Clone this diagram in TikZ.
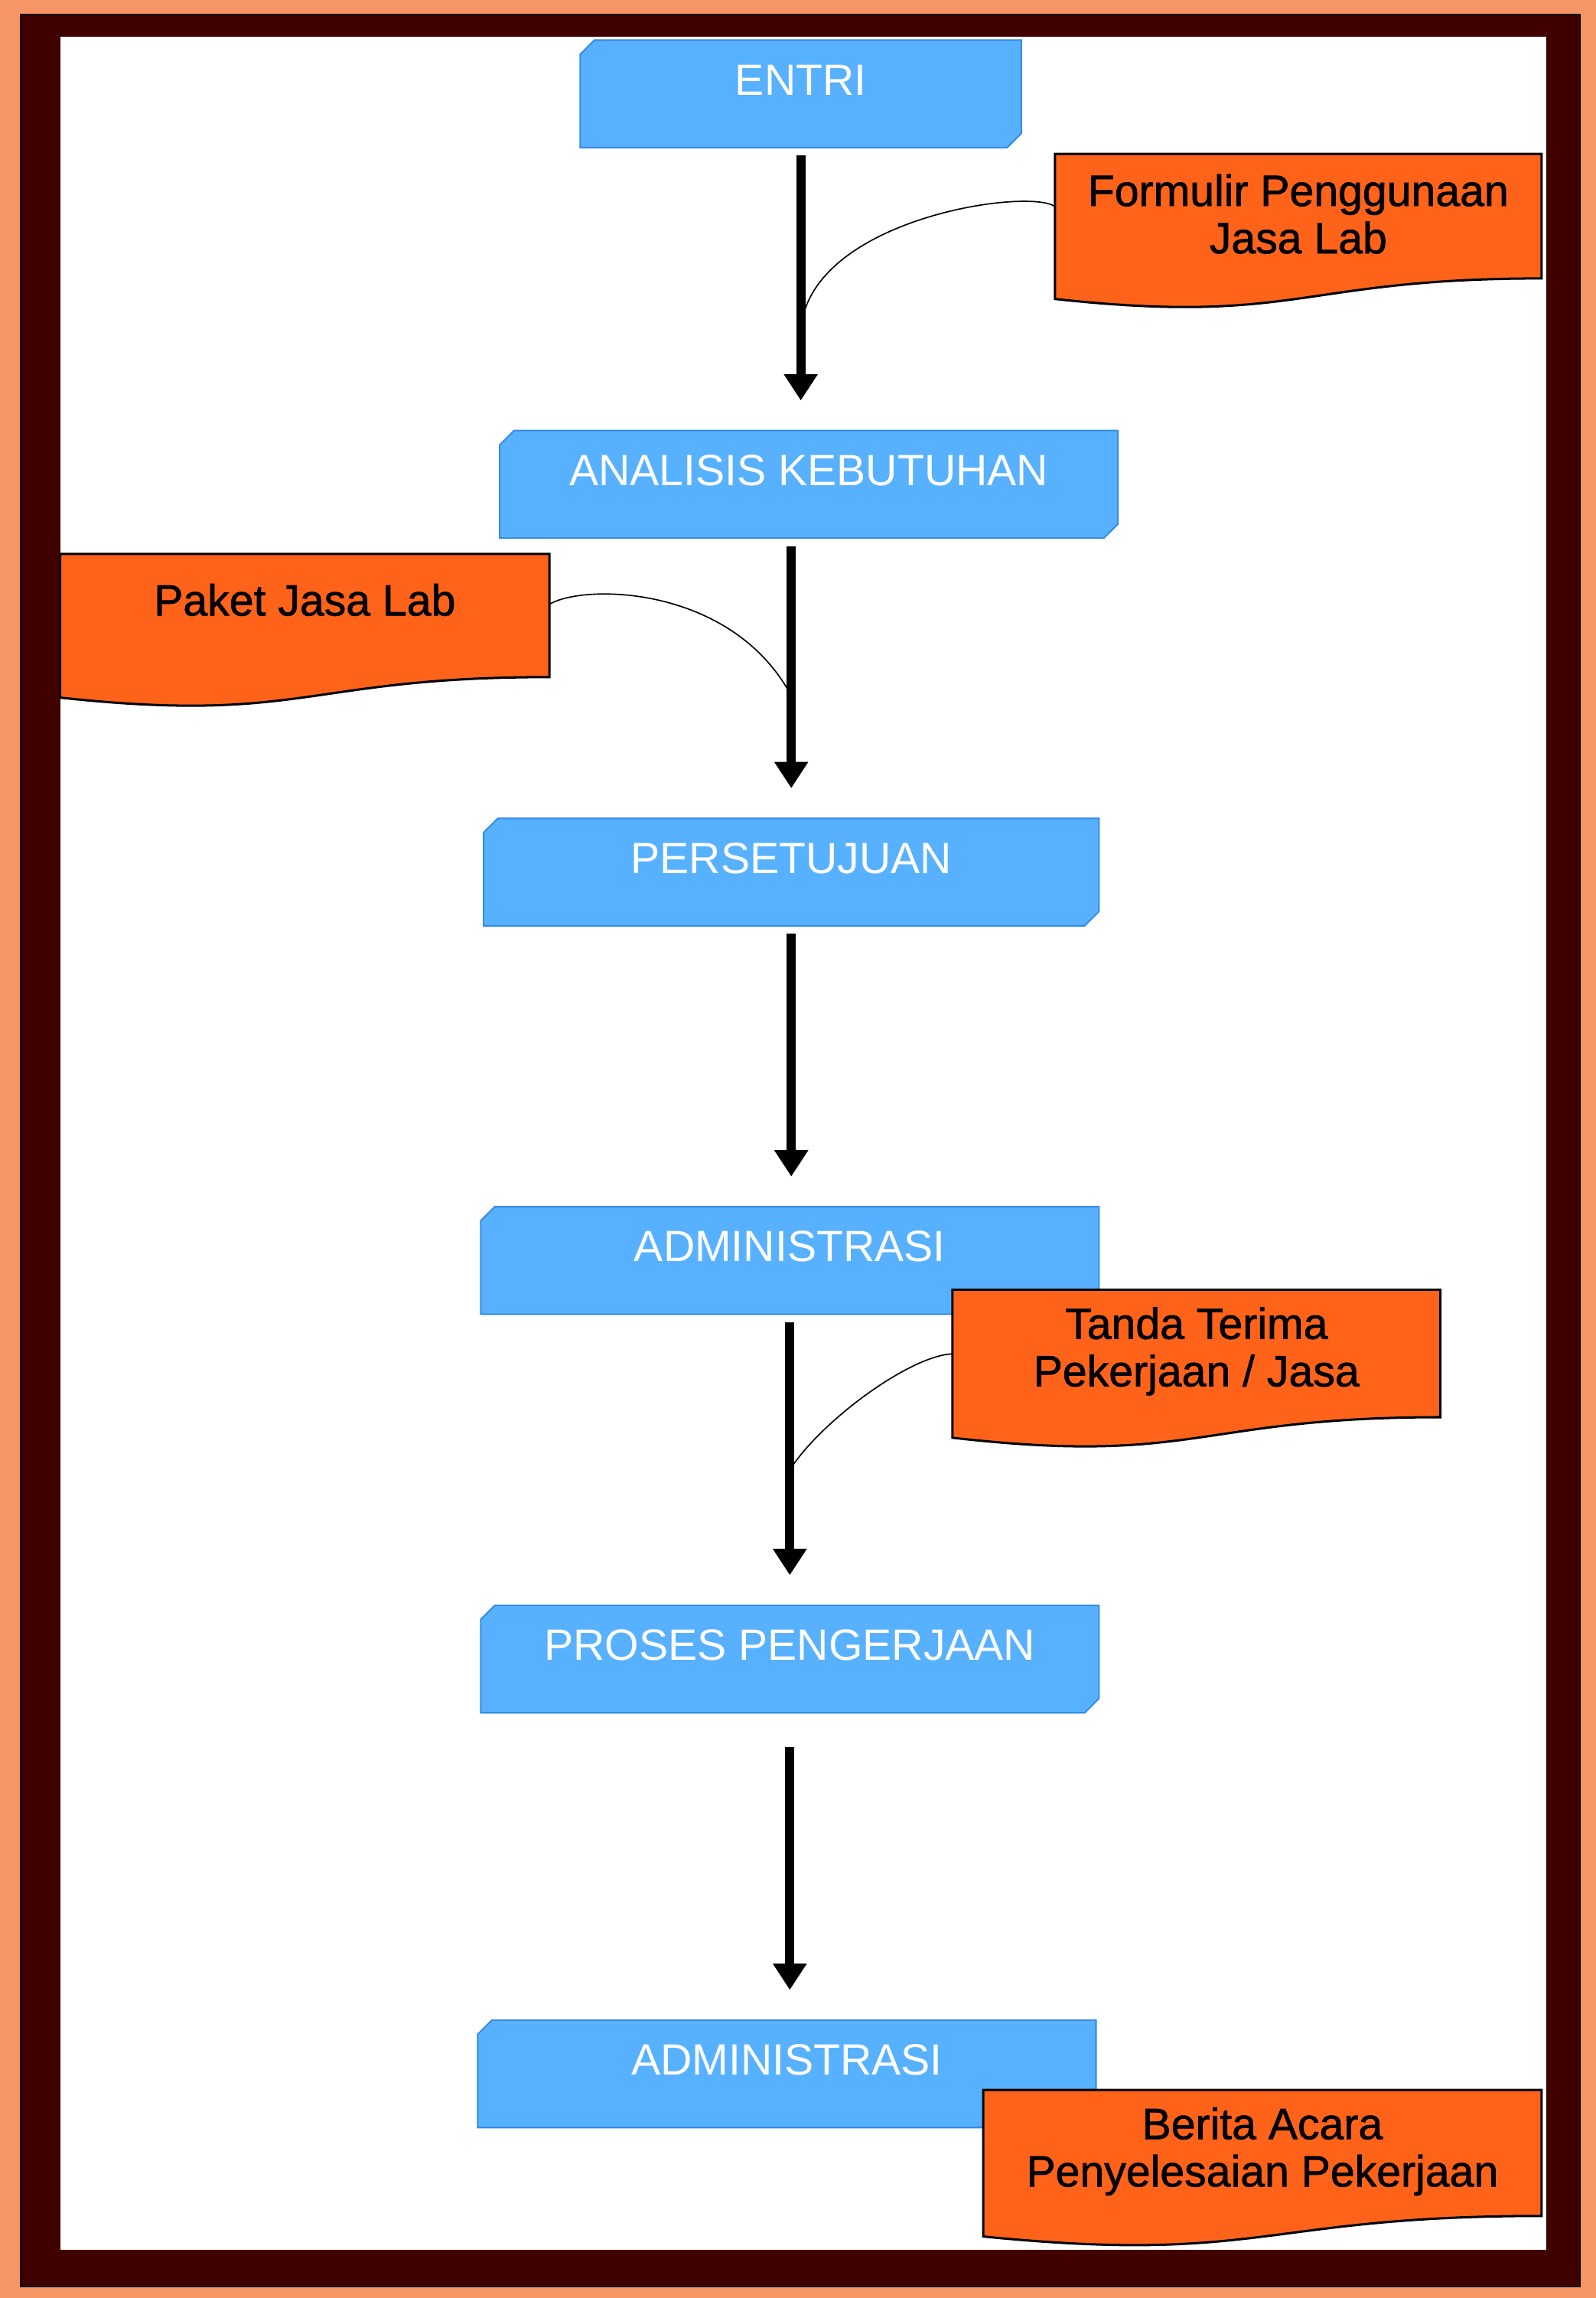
\documentclass[tikz,border=0pt]{standalone}
\usepackage{fontspec}
\setmainfont{Liberation Sans}
\usetikzlibrary{arrows.meta,shapes.misc}
\definecolor{stepblue}{RGB}{87,177,255}
\definecolor{stepedge}{RGB}{52,140,228}
\definecolor{docorange}{RGB}{255,99,26}
\definecolor{framered}{RGB}{64,0,0}
\definecolor{marble}{RGB}{246,150,100}
\begin{document}
\begin{tikzpicture}[x=0.02cm,y=-0.02cm,
		stepbox/.style={chamfered rectangle,chamfered rectangle corners={north west,south east},chamfered rectangle xsep=0.07cm,
			fill=stepblue,draw=stepedge,line width=0.6pt,text=white,inner sep=0pt,minimum width=8.44cm,minimum height=1.2cm,
			text height=0.63cm,text depth=0.59cm,font=\fontsize{17}{18.6}\selectfont},
		docbox/.style={fill=docorange,draw=black,line width=0.9pt},
		doctext/.style={inner sep=0pt,align=center,font=\fontsize{17}{18.4}\selectfont\addfontfeature{FakeBold=1.2}},
		flow/.style={line width=3.6pt,-{Triangle[width=0.44cm,length=0.36cm]},shorten <=0.1cm,shorten >=0.4cm},
		link/.style={line width=0.5pt}]
		\fill[marble] (0,0) rectangle (1089,1568);
		\draw[fill=framered,line width=0.6pt] (14,10) rectangle (1078,1560);
		\fill[white] (41,25) rectangle (1055,1535);
		\node[stepbox,minimum width=6.02cm] (entri) at (546.5,64) {ENTRI};
		\node[stepbox] (analisis) at (552,330.5) {ANALISIS KEBUTUHAN};
		\node[stepbox,minimum width=8.4cm] (persetujuan) at (540,595) {PERSETUJUAN};
		\node[stepbox] (admin) at (539,860) {ADMINISTRASI};
		\node[stepbox] (proses) at (539,1132) {PROSES PENGERJAAN};
		\node[stepbox] (admintwo) at (537,1415) {ADMINISTRASI};
		\draw[flow] (entri.south) -- coordinate[pos=0.65] (formin) (entri.south |- analisis.north);
		\draw[flow] (persetujuan.north |- analisis.south) -- coordinate[pos=0.563] (paketin) (persetujuan.north);
		\draw[flow] (persetujuan.south) -- (persetujuan.south |- admin.north);
		\draw[flow] (admin.south) -- coordinate[pos=0.535] (tandain) (admin.south |- proses.north);
		\draw[flow,shorten <=0.46cm] (proses.south) -- (proses.south |- admintwo.north);
		\draw[docbox] (720,105) -- (1052,105) -- (1052,190) .. controls (886,190) and (886,222) .. (720,204) -- cycle;
		\node[doctext,minimum width=6.64cm,minimum height=1.7cm] (form) at (886,146) {Formulir Penggunaan\\Jasa Lab};
		\draw[docbox] (41,378) -- (375,378) -- (375,462) .. controls (208,462) and (208,494) .. (41,476) -- cycle;
		\node[doctext,minimum width=6.68cm,minimum height=1.68cm,text height=0.84cm,text depth=0.84cm] (paket) at (208,420) {Paket Jasa Lab};
		\draw[docbox] (650,880) -- (983,880) -- (983,967) .. controls (816.5,967) and (816.5,1000) .. (650,981) -- cycle;
		\node[doctext,minimum width=6.66cm,minimum height=1.74cm] (tanda) at (816.5,922) {Tanda Terima\\Pekerjaan / Jasa};
		\draw[docbox] (671,1426) -- (1052,1426) -- (1052,1512) .. controls (861.5,1512) and (861.5,1545) .. (671,1526) -- cycle;
		\node[doctext,minimum width=7.62cm,minimum height=1.72cm] (berita) at (861.5,1468) {Berita Acara\\Penyelesaian Pekerjaan};
		\draw[link] ([yshift=3pt]form.west) .. controls (700,128) and (551,150) .. (formin);
		\draw[link] ([yshift=4.5pt]paket.east) .. controls (400,398) and (500,400) .. (paketin);
		\draw[link] ([yshift=-1pt]tanda.west) .. controls (620,925.5) and (560,970) .. (tandain);
	\end{tikzpicture}
\end{document}
